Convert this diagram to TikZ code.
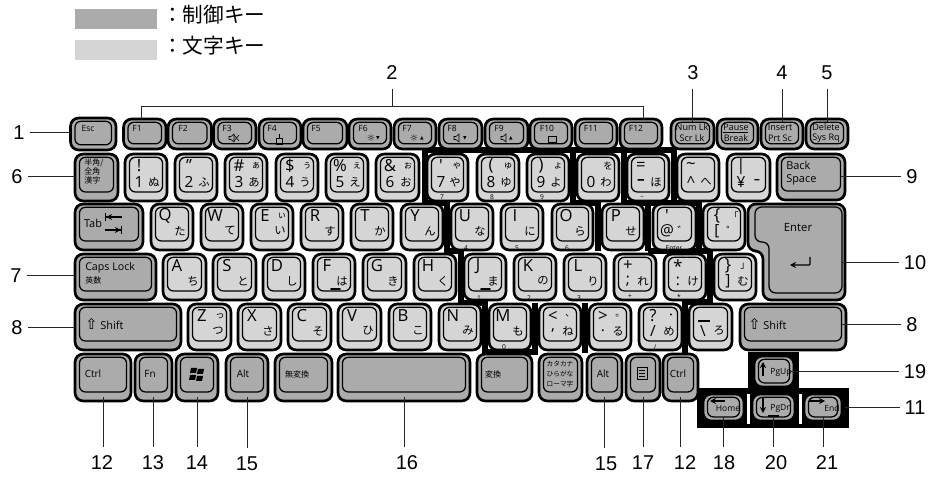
\documentclass[tikz,border=0pt]{standalone}
\usepackage{fontspec}
\setmainfont{Open Sans}
\newfontfamily\cjkfont{Noto Sans CJK JP}
\newfontfamily\arialfont{Liberation Sans}
\newfontfamily\symfont{DejaVu Sans}
\usetikzlibrary{arrows.meta,fit}

\definecolor{ctrlgray}{HTML}{ABABAB}
\definecolor{chargray}{HTML}{D5D5D5}

\tikzset{
  ctrlkey/.style={draw=black, fill=ctrlgray, line width=2pt, rounded corners=6pt, inner sep=-0.8pt, outer sep=0pt},
  charkey/.style={ctrlkey, fill=chargray},
  keytop/.style={draw=black, line width=0.95pt, rounded corners=4.5pt},
  padline/.style={draw=black, line width=4.4pt, line join=miter},
  leader/.style={draw=black!85, line width=0.75pt},
  numlabel/.style={font=\arialfont\fontsize{15}{15}\selectfont, inner xsep=3.6pt, inner ysep=6.3pt},
  keylabel/.style={font=\fontsize{7.5}{9.5}\selectfont, inner sep=0pt, align=left},
  finelabel/.style={font=\fontsize{6.4}{7}\selectfont, inner sep=0pt},
  biglabel/.style={font=\fontsize{12.5}{12.5}\selectfont, inner sep=0pt},
  lowlabel/.style={font=\fontsize{11.5}{11.5}\selectfont, inner sep=0pt},
  kanalabel/.style={font=\cjkfont\fontsize{8.5}{8.5}\selectfont, inner sep=0pt},
  cjklabel/.style={font=\cjkfont\fontsize{6}{7}\selectfont, inner sep=0pt, align=left},
  underkey/.style={font=\fontsize{5}{5}\selectfont, inner sep=0pt},
  legendlabel/.style={font=\cjkfont\fontsize{15.5}{15.5}\selectfont, inner sep=0pt, anchor=west},
  iconline/.style={draw=black, line width=0.4pt},
  arrowline/.style={draw=black, line width=0.8pt, -{Stealth[length=4.5pt,width=4.5pt]}},
}

% one key: node plus the raised top inside it
\newcommand{\keycap}[7][6.7pt]{
  \node[#2, fit={(#4,#5) (#6,#7)}] (#3) {};
  \draw[keytop] ([xshift=3.3pt,yshift=-2.4pt]#3.north west) rectangle ([xshift=-3.3pt,yshift=#1]#3.south east);
}
% one character key with its four legends
\newcommand{\kanakey}[9]{
  \keycap{charkey}{#1}{#2}{#3}{#4}{#5}
  \node[biglabel] (#1-tl) at (#2+15,#3+13) {#6};
  \node[kanalabel, font=\cjkfont\fontsize{7}{7}\selectfont] (#1-tr) at (#4-12,#3+13) {#7};
  \node[lowlabel] (#1-bl) at (#2+15,#5-20) {#8};
  \node[kanalabel] (#1-br) at (#4-14,#5-20) {#9};
}
\newcommand{\spkr}[2]{
  \draw[iconline] (#1-2,#2-1.5) -- (#1,#2-1.5) -- (#1+3,#2-4) -- (#1+3,#2+4) -- (#1,#2+1.5) -- (#1-2,#2+1.5) -- cycle;
}

\begin{document}
\begin{tikzpicture}[x=0.75pt,y=-0.75pt]
  \useasboundingbox (0,0) rectangle (933,477);

  % we draw the legend
  \node[fill=ctrlgray, inner sep=0pt, fit={(75,9) (157,29)}] (legctrl) {};
  \node[fill=chargray, inner sep=0pt, fit={(75,40) (157,60)}] (legchar) {};
  \node[legendlabel] (legctrltext) at (162,15) {：制御キー};
  \node[legendlabel] (legchartext) at (162,46) {：文字キー};

  % we draw the black frames behind the keys
  \draw[padline] (461,303) -- (461,251) -- (447,251) -- (447,203) -- (425,203) -- (425,150) -- (674,150) -- (674,203) -- (699,203) -- (699,251) -- (710,251) -- (710,302) -- (685,302) -- (685,353);
  \draw[padline] (573,150) -- (573,203) -- (598,203) -- (598,251);
  \draw[padline] (624,150) -- (624,203) -- (648,203) -- (648,251);
  \draw[padline] (648,203) -- (674,203);
  \draw[padline] (648,251) -- (699,251);
  \draw[padline] (461,303) -- (485,303) -- (485,352) -- (535,352) -- (535,303);
  \draw[padline] (585,303) -- (585,353);
  \node[fill=black, inner sep=0pt, fit={(748,352) (799,388)}] (navtop) {};
  \node[fill=black, inner sep=0pt, fit={(697,388) (849,428)}] (navblock) {};
  \fill[white] (747,394) rectangle (750,424);
  \fill[white] (799,394) rectangle (802,424);

  % we draw the function row
  \keycap[3.8pt]{ctrlkey}{esc}{69.5}{117}{117}{151}
  \foreach \kname/\xa/\xb in {f1/122.5/167,f2/167/212.5,f3/212.5/257,f4/258/302,f5/302/348,f6/348/392,f7/393/437,f8/438/483,f9/484/529,f10/529/573,f11/574/618,f12/619/663,numlk/670/715,pause/716/759,insert/760/804,delete/805/849}
    {\keycap[3.8pt]{ctrlkey}{\kname}{\xa}{118}{\xb}{150}}
  \node[finelabel] (esctext) at (88,128) {Esc};
  \foreach \kname/\xa/\ltxt in {f1/137/F1,f2/183/F2,f3/227/F3,f4/272/F4,f5/316/F5,f6/363/F6,f7/407/F7,f8/452/F8,f9/499/F9,f10/547/F10,f11/591/F11,f12/636/F12}
    {\node[finelabel] (\kname-text) at (\xa,128) {\ltxt};}
  \foreach \kname/\xa/\utxt/\ltxt in {numlk/692/Num Lk/Scr Lk,pause/736/Pause/Break,insert/780/Insert/Prt Sc,delete/826/Delete/Sys Rq}
    {\node[finelabel, font=\fontsize{6.8}{7}\selectfont] (\kname-up) at (\xa,127) {\utxt};
     \node[finelabel, font=\fontsize{6.8}{7}\selectfont] (\kname-lo) at (\xa,138) {\ltxt};}
  \draw[black, line width=0.8pt] (723,132.5) -- (748,132.5);

  % we add the small icons on the function keys
  \spkr{231}{138}
  \draw[iconline] (234,135) -- (239,141) (239,135) -- (234,141);
  \draw[iconline] (276,138) rectangle (282,144) (279,138) -- (279,134);
  \node[font=\symfont\fontsize{7}{7}\selectfont, inner sep=0pt] (sunless) at (371,138) {☼};
  \node[font=\symfont\fontsize{3.5}{4}\selectfont, inner sep=0pt] (sunlessmark) at (378,138) {▼};
  \node[font=\symfont\fontsize{7}{7}\selectfont, inner sep=0pt] (sunmore) at (414,138) {☼};
  \node[font=\symfont\fontsize{3.5}{4}\selectfont, inner sep=0pt] (sunmoremark) at (422,138) {▲};
  \spkr{456}{138}
  \node[font=\symfont\fontsize{3.5}{4}\selectfont, inner sep=0pt] (volless) at (465,138) {▼};
  \spkr{503}{138}
  \node[font=\symfont\fontsize{3.5}{4}\selectfont, inner sep=0pt] (volmore) at (511,138) {▲};
  \draw[iconline, fill=black!35] (548,136) rectangle (556,142);

  % we draw the number row
  \keycap{ctrlkey}{hankaku}{74}{153}{119}{202}
  \node[cjklabel, anchor=north west] (hankakutext) at (84,158) {半角/\\全角\\漢字};
  \foreach \kname/\xa/\xb/\ktl/\ktr/\kbl/\kbr in {one/124/168/!/{}/1/ぬ,two/174/218/"/{}/2/ふ,three/224/268/\#/ぁ/3/あ,four/275/319/\$/ぅ/4/う,five/325/369/\%/ぇ/5/え,six/375/420/\&/ぉ/6/お,seven/426/469/{\textquotesingle}/ゃ/7/や,eight/476/520/(/ゅ/8/ゆ,nine/526/570/)/ょ/9/よ,zero/576/620/{}/を/0/わ,minus/626/670/=/{}/{\textbf{–}}/ほ,caret/676/720/\textasciitilde/{}/\textasciicircum/へ,yen/726/771/|/{}/¥/{\textbf{–}}}
    {\kanakey{\kname}{\xa}{153}{\xb}{202}{\ktl}{\ktr}{\kbl}{\kbr}}
  \keycap{ctrlkey}{backspace}{776}{153}{846}{201}
  \node[keylabel, font=\fontsize{8.2}{9.8}\selectfont, anchor=west] (backspacetext) at (786,173.5) {Back\\Space};

  % we draw the top letter row
  \keycap{ctrlkey}{tab}{74}{203}{144}{251}
  \node[keylabel, font=\fontsize{8.2}{9}\selectfont] (tabtext) at (93,223) {Tab};
  \draw[arrowline, -{Stealth[length=4.5pt,width=4.5pt]Bar[width=6pt]}] (122,217) -- (105,217);
  \draw[arrowline, -{Stealth[length=4.5pt,width=4.5pt]Bar[width=6pt]}] (105,230) -- (122,230);
  \foreach \kname/\xa/\xb/\ktl/\ktr/\kbl/\kbr in {q/150/194/Q/{}/{}/た,w/200/244/W/{}/{}/て,e/250/294/E/ぃ/{}/い,r/300/344/R/{}/{}/す,t/350/394/T/{}/{}/か,y/400/444/Y/{}/{}/ん,u/450/494/U/{}/{}/な,i/500/544/I/{}/{}/に,o/551/594/O/{}/{}/ら,p/601/645/P/{}/{}/せ,at/652/697/{\textquotesingle}/{}/@/゛,bra/702/746/\{/「/[/゜}
    {\kanakey{\kname}{\xa}{203}{\xb}{251}{\ktl}{\ktr}{\kbl}{\kbr}}

  % we draw the enter key as its own path
  \node[inner sep=0pt, outer sep=0pt, fit={(748,203) (846,301)}] (enter) {};
  \draw[fill=ctrlgray, draw=black, line width=2pt, rounded corners=6pt] (748,204) -- (845,204) -- (845,300) -- (763,300) -- (763,251) -- (748,251) -- cycle;
  \draw[keytop, rounded corners=5pt] (755,207) -- (842,207) -- (842,293) -- (769,293) -- (769,242) -- (755,242) -- cycle;
  \node[keylabel, font=\fontsize{8.5}{9}\selectfont] (entertext) at (798,228) {Enter};
  \draw[arrowline, rounded corners=0.5pt] (810,257) -- (810,265) -- (790,265);

  % we draw the home row
  \keycap{ctrlkey}{caps}{74}{253}{157}{301}
  \node[keylabel, anchor=west, font=\fontsize{8}{9}\selectfont] (capstext) at (85,268) {Caps Lock};
  \node[cjklabel, anchor=west] (eisutext) at (85,280) {英数};
  \foreach \kname/\xa/\xb/\ktl/\ktr/\kbl/\kbr in {a/162/207/A/{}/{}/ち,s/212/257/S/{}/{}/と,d/262/306/D/{}/{}/し,f/312/356/F/{}/{}/は,g/362/407/G/{}/{}/き,h/413/457/H/{}/{}/く,j/463/507/J/{}/{}/ま,k/513/557/K/{}/{}/の,l/563/607/L/{}/{}/り,plus/613/657/+/{}/;/れ,star/663/707/*/{}/:/け,ket/713/757/\}/」/]/む}
    {\kanakey{\kname}{\xa}{253}{\xb}{301}{\ktl}{\ktr}{\kbl}{\kbr}}
  \draw[black, line width=1.2pt, line cap=round] (331,289) -- (340,289);
  \draw[black, line width=1.2pt, line cap=round] (481,289) -- (490,289);

  % we draw the shift row
  \keycap{ctrlkey}{lshift}{74}{303}{182}{351}
  \node[keylabel, font=\fontsize{8.2}{9}\selectfont, anchor=west] (lshifttext) at (85,324) {{\symfont\fontsize{11}{11}\selectfont ⇧} Shift};
  \foreach \kname/\xa/\xb/\ktl/\ktr/\kbl/\kbr in {z/187/232/Z/っ/{}/つ,x/237/282/X/{}/{}/さ,c/287/332/C/{}/{}/そ,v/337/382/V/{}/{}/ひ,b/388/432/B/{}/{}/こ,n/438/482/N/{}/{}/み,m/488/532/M/{}/{}/も,comma/538/582/</、/{,}/ね,period/588/632/>/。/./る,slash/638/683/?/・/{/}/め,under/688/733/{}/{}/\textbackslash/ろ}
    {\kanakey{\kname}{\xa}{303}{\xb}{351}{\ktl}{\ktr}{\kbl}{\kbr}}
  \draw[black, line width=1.2pt] (698,321) -- (710,321);
  \keycap{ctrlkey}{rshift}{739}{303}{847}{351}
  \node[keylabel, font=\fontsize{8.2}{9}\selectfont, anchor=west] (rshifttext) at (748,324.5) {{\symfont\fontsize{11}{11}\selectfont ⇧} Shift};

  % we draw the bottom row
  \foreach \kname/\xa/\xb in {ctrla/74/132,fn/134/173,win/175/219,alta/225/269,muhenkan/274/333,space/337/471,henkan/476/533,kana/538/583,altb/586/623,menu/625/661,ctrlb/662/699}
    {\keycap{ctrlkey}{\kname}{\xa}{353}{\xb}{402}}
  \node[keylabel] (ctrlatext) at (93,374) {Ctrl};
  \node[keylabel] (fntext) at (150,374) {Fn};
  \foreach \xa/\ya in {-6/-6,1/-5,-7/1,0/2}
    {\fill[black] (197+\xa,374+\ya) -- ++(6,0) -- ++(-1,5) -- ++(-6,0) -- cycle;}
  \node[keylabel] (altatext) at (243,374) {Alt};
  \node[cjklabel] (muhenkantext) at (297,374) {無変換};
  \node[cjklabel] (henkantext) at (493,374) {変換};
  \node[cjklabel, font=\cjkfont\fontsize{5}{7.4}\selectfont, align=center] (kanatext) at (560,374) {カタカナ\\ひらがな\\ローマ字};
  \node[keylabel] (altbtext) at (603,374) {Alt};
  \draw[iconline, line width=0.6pt] (637,367) rectangle (647,379);
  \draw[iconline] (639,370) -- (645,370) (639,373) -- (645,373) (639,376) -- (645,376);
  \node[keylabel] (ctrlbtext) at (678,374) {Ctrl};

  % we draw the arrow keys
  \keycap[3pt]{ctrlkey}{pgup}{753}{355}{795}{388}
  \keycap[3pt]{ctrlkey}{home}{702}{393}{745}{422}
  \keycap[3pt]{ctrlkey}{pgdn}{751}{393}{796}{422}
  \keycap[3pt]{ctrlkey}{end}{803}{393}{843}{422}
  \draw[arrowline] (763,376) -- (763,362);
  \draw[arrowline] (725,401) -- (710,401);
  \draw[arrowline] (763,397) -- (763,413);
  \draw[arrowline] (809,401) -- (825,401);
  \node[finelabel] (pguptext) at (781,372) {PgUp};
  \node[finelabel] (hometext) at (728,408) {Home};
  \node[finelabel] (pgdntext) at (781,408) {PgDn};
  \node[finelabel] (endtext) at (832,408) {End};
  \draw[black, line width=0.9pt] (768,416) -- (779,416);

  % we add the small ten-key legends at the key bottoms
  \foreach \kname/\xa/\ya/\ltxt in {seventen/442/197.5/7,eightten/492/197.5/8,nineten/542/197.5/9,minusten/642/197.5/–,fourten/466/248/4,fiveten/517/248/5,sixten/567/248/6,enterten/674/248/Enter,oneten/479/298/1,twoten/529/298/2,threeten/579/298/3,plusten/630/297/+,starten/679/297/*,zeroten/504/347/0,slashten/655/347/{/}}
    {\node[underkey] (\kname) at (\xa,\ya) {\ltxt};}

  % we add the numbers round the keyboard
  \foreach \lname/\lx/\ly/\ltxt in {laba/19/132.5/1,labb/392/73/2,labc/693/73/3,labd/782/73/4,labe/827/73/5,labf/17/176.5/6,labg/16/276/7,labh/17/327.5/8,labi/912/176.5/9,labj/915/262.5/10,labk/915/408/11,labl/102/463/12,labm/153/463/13,labn/197/463/14,labo/247/464/15,labp/407/463/16,labq/606/464/15,labr/643/463/17,labs/685/463/12,labt/724/463/18,labu/915/372/19,labv/776/463/20,labw/827/463/21,labx/912/325/8}
    {\node[numlabel] (\lname) at (\lx,\ly) {\ltxt};}

  % we draw the leader lines
  \coordinate (brkleft) at (141,107);
  \coordinate (brkright) at (643,107);
  \draw[leader] (f1.north -| brkleft) -- (brkleft) -- (brkright) -- (f12.north -| brkright);
  \draw[leader] (labb.south) -- (labb.south |- brkleft);
  \foreach \kname/\lname in {numlk/labc,insert/labd,delete/labe}
    {\draw[leader, shorten <=-2.3pt] (\kname.north) -- (\kname.north |- \lname.south);}
  \foreach \kname/\lname in {esc/laba,hankaku/labf,caps/labg,lshift/labh}
    {\draw[leader] (\lname.east) -- (\lname.east -| \kname.west);}
  \foreach \kname/\lname in {backspace/labi,enter/labj,rshift/labx,pgup/labu,navblock/labk}
    {\draw[leader, shorten >=-3pt] (\lname.west) -- (\lname.west -| \kname.east);}
  \foreach \kname/\lname in {ctrla/labl,fn/labm,win/labn,alta/labo,space/labp,altb/labq,menu/labr,ctrlb/labs,home/labt,pgdn/labv,end/labw}
    {\draw[leader, shorten <=-3pt] (\kname.south) -- (\kname.south |- \lname.north);}
\end{tikzpicture}
\end{document}
